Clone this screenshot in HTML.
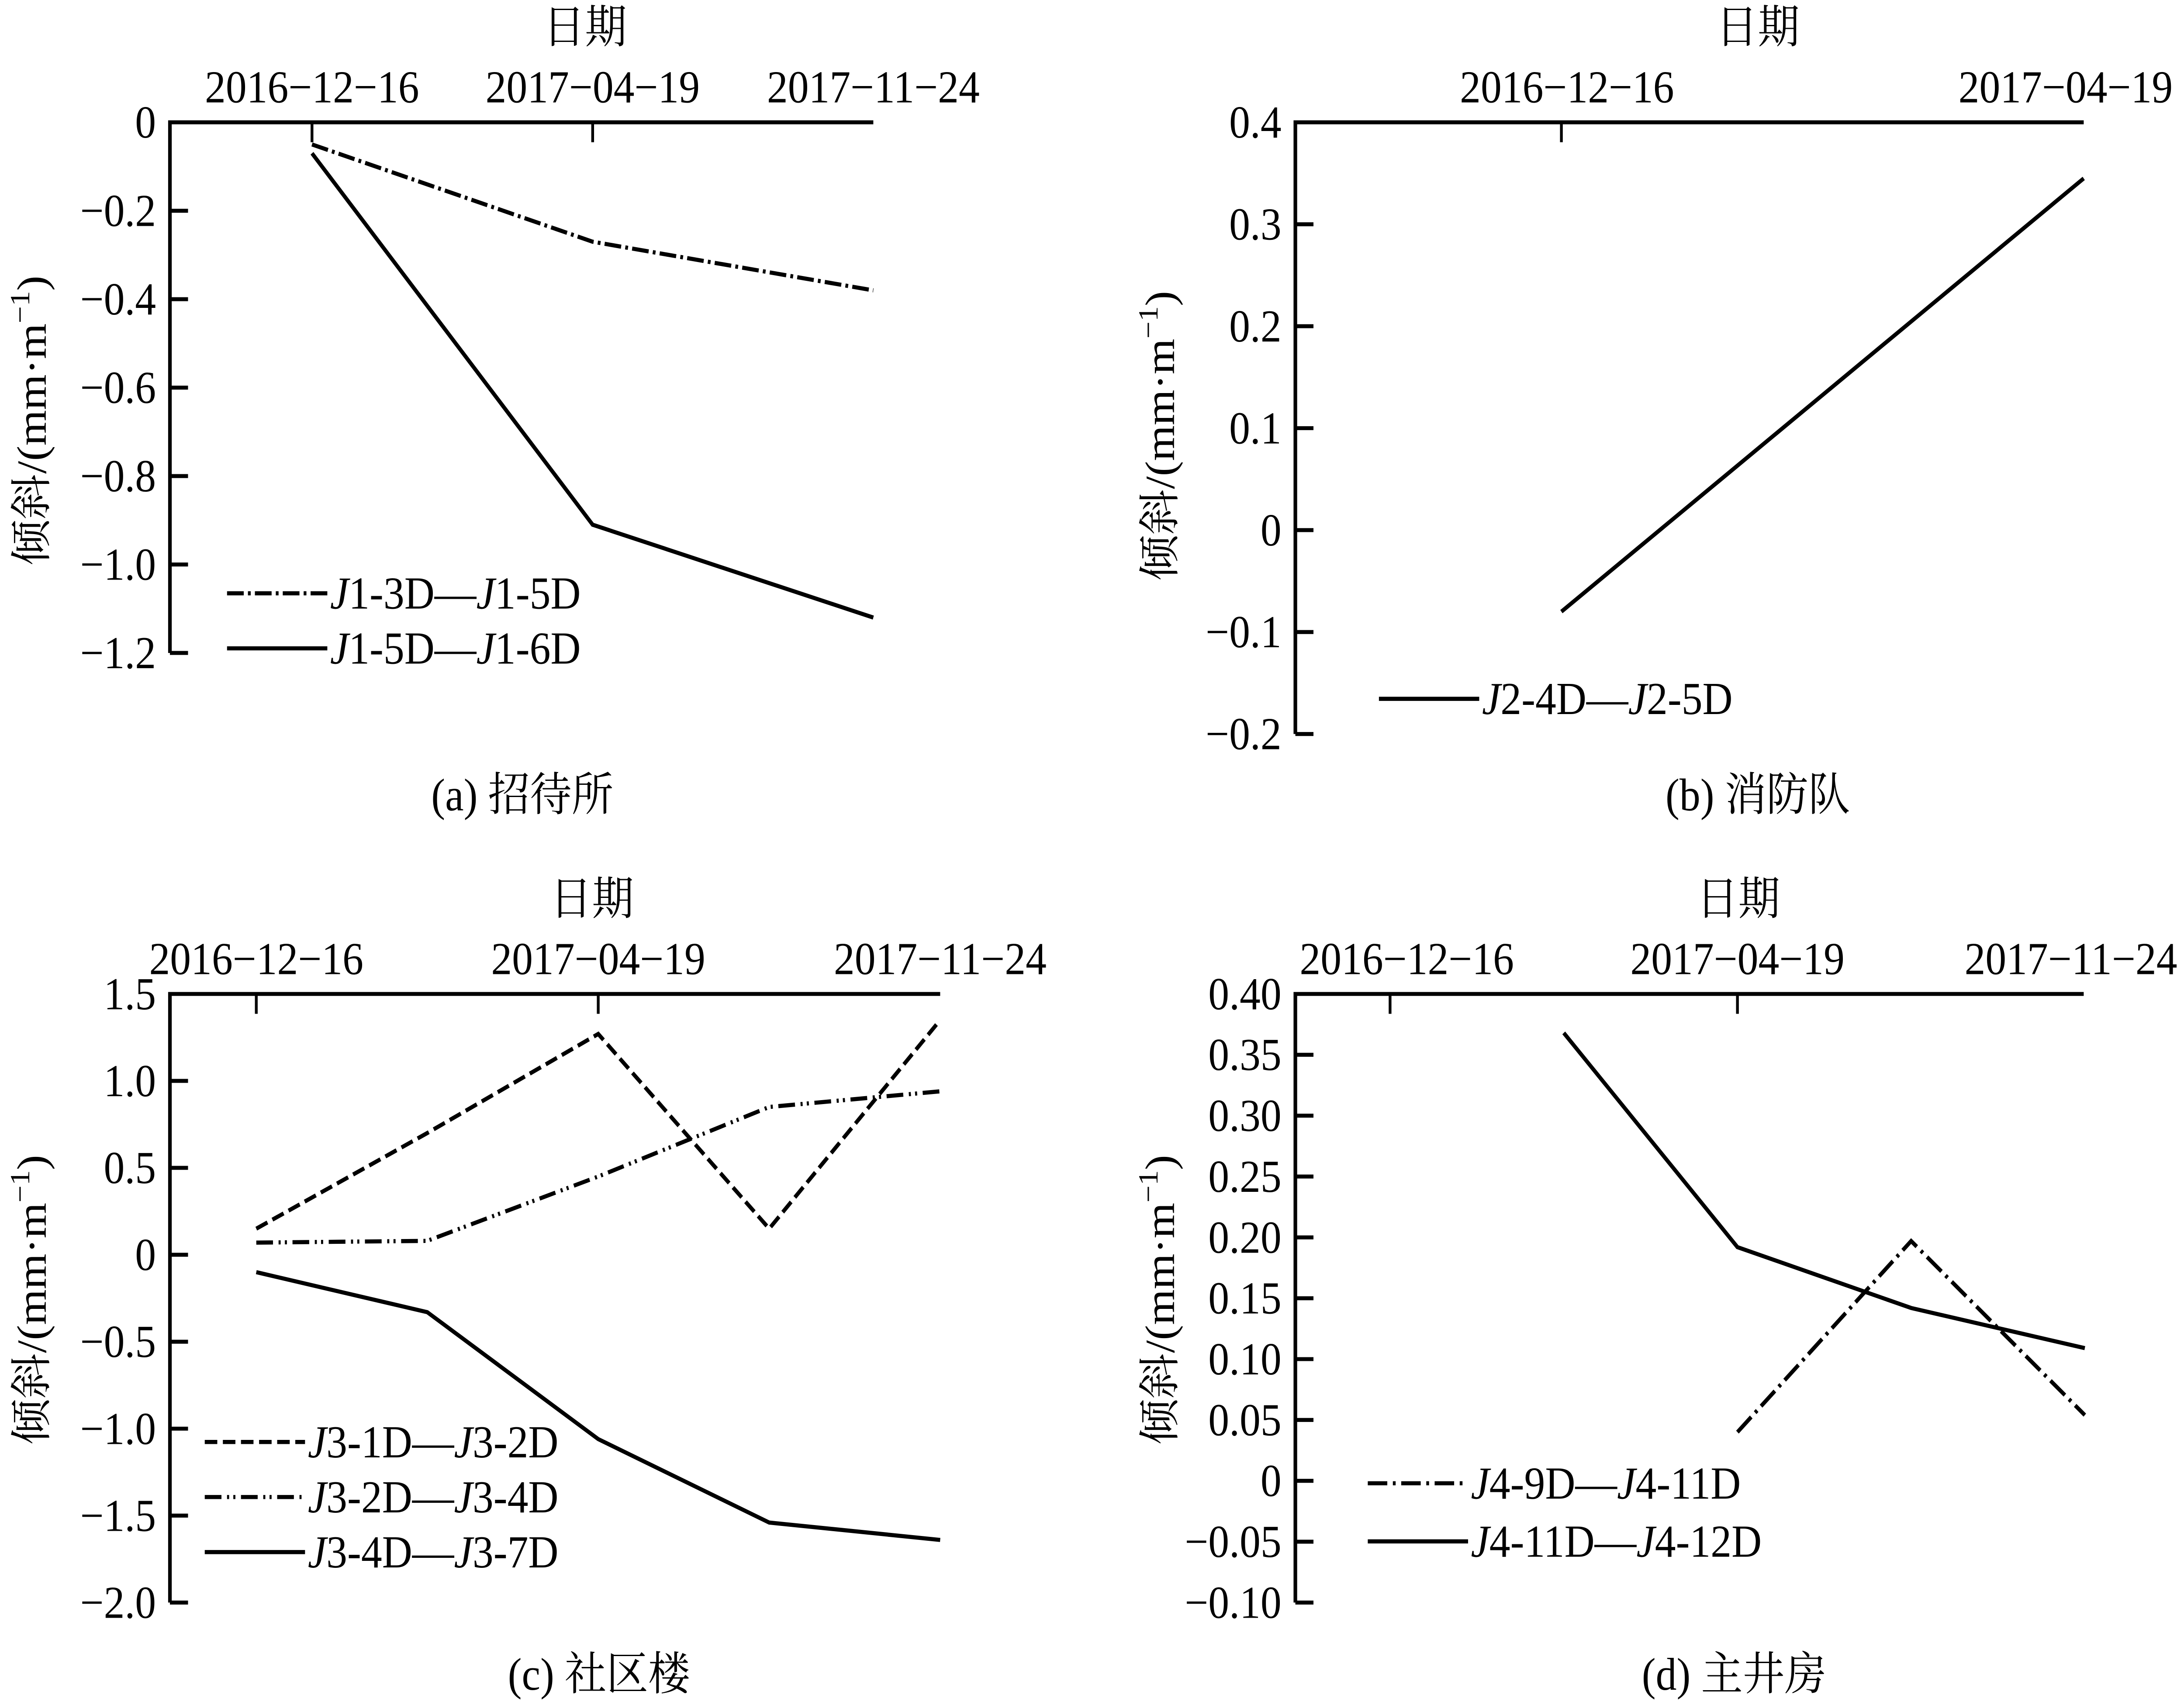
<!DOCTYPE html>
<html><head><meta charset="utf-8"><style>
html,body{margin:0;padding:0;background:#fff;width:100%;height:100%;overflow:hidden;}
svg{display:block;position:absolute;left:0;top:0;width:100vw;height:100vh;}
text{font-family:"Liberation Serif","Noto Serif CJK SC","Noto Sans CJK SC",serif;fill:#000;}
</style></head><body>
<svg id="root" xmlns="http://www.w3.org/2000/svg" viewBox="0 0 1568 1115" preserveAspectRatio="none">
<rect width="1568" height="1115" fill="#fff"/>
<g id="chart"></g>
</svg>
<script>
// ---- data arrays ----
const aDates = ["2016−12−16","2017−04−19","2017−11−24"];
const aTicks = [0,-0.2,-0.4,-0.6,-0.8,-1.0,-1.2];
const aTickLabels = ["0","−0.2","−0.4","−0.6","−0.8","−1.0","−1.2"];
const aSeries1 = [-0.05,-0.27,-0.38];
const aSeries2 = [-0.07,-0.91,-1.12];

const bDates = ["2016−12−16","2017−04−19"];
const bTicks = [0.4,0.3,0.2,0.1,0,-0.1,-0.2];
const bTickLabels = ["0.4","0.3","0.2","0.1","0","−0.1","−0.2"];
const bSeries1 = [-0.08,0.345];

const cDates = ["2016−12−16","2017−04−19","2017−11−24"];
const cTicks = [1.5,1.0,0.5,0,-0.5,-1.0,-1.5,-2.0];
const cTickLabels = ["1.5","1.0","0.5","0","−0.5","−1.0","−1.5","−2.0"];
const cSeries1 = [0.15,0.70,1.27,0.15,1.35];
const cSeries2 = [0.07,0.08,0.45,0.85,0.94];
const cSeries3 = [-0.10,-0.33,-1.06,-1.54,-1.64];

const dDates = ["2016−12−16","2017−04−19","2017−11−24"];
const dTicks = [0.40,0.35,0.30,0.25,0.20,0.15,0.10,0.05,0,-0.05,-0.10];
const dTickLabels = ["0.40","0.35","0.30","0.25","0.20","0.15","0.10","0.05","0","−0.05","−0.10"];
const dSeries1 = [null,null,0.040,0.197,0.054];
const dSeries2 = [null,0.368,0.192,0.142,0.109];

const NS="http://www.w3.org/2000/svg";
const svg=document.getElementById('chart');
function mk(tag,attrs,parent){const e=document.createElementNS(NS,tag);for(const k in attrs)e.setAttribute(k,attrs[k]);(parent||svg).appendChild(e);return e;}

function panel(p){
  const g=mk('g',{});
  
  
  const sy=v=>p.top+(p.ymax-v)/(p.ymax-p.ymin)*(p.bottom-p.top);
  const sx=i=>p.x0+i*p.dx;
  const ax=mk('path',{d:`M${p.left},${p.bottom} V${p.top} H${p.right}`,fill:'none',stroke:'#000','stroke-width':2.6},g);
  
  
  p.yt.forEach((v,i)=>{
    const y=sy(v);
    if(i>0){const t=mk('line',{x1:p.left,x2:p.left+13,y1:y,y2:y,stroke:'#000','stroke-width':2.6},g);
      
      }
    const tx=mk('text',{x:p.left-10,y:y+10,'font-size':30,'text-anchor':'end'},g);
    tx.textContent=p.ytl[i];
    
    
  });
  p.dates.forEach((d,i)=>{
    const x=sx(p.dateIdx[i]);
    if(x<p.right-1){const t=mk('line',{x1:x,x2:x,y1:p.top,y2:p.top+13,stroke:'#000','stroke-width':2},g);
      
      }
    const tx=mk('text',{x:x+(p.lblShift?p.lblShift[i]:0),y:p.top-13,'font-size':30,'text-anchor':'middle'},g);
    tx.textContent=d;
    
    
  });
  const xt=mk('text',{x:p.xtitleX,y:p.top-52,'font-size':30,'text-anchor':'middle'},g);
  xt.textContent='日期';
  
  
  const yt=mk('text',{x:0,y:0,'font-size':30,'text-anchor':'middle',transform:`translate(${p.ytX},${p.ytY}) rotate(-90)`},g);
  yt.innerHTML='倾斜/(mm·m<tspan dy="-12" font-size="20">−1</tspan><tspan dy="12">)</tspan>';
  
  
  const cap=mk('text',{x:p.capX,y:p.capY,'font-size':30,'text-anchor':'middle'},g);
  cap.textContent=p.caption;
  
  
  p.series.forEach((s,k)=>{
    let d='';
    s.vals.forEach((v,i)=>{if(v===null)return;d+=(d?'L':'M')+sx(i)+','+sy(v)+' ';});
    const l=mk('path',{d:d,fill:'none',stroke:'#000','stroke-width':2.7,'stroke-dasharray':s.dash||'none'},g);
    
    
    const ly=p.legY[k];
    const ll=mk('line',{x1:p.legX,x2:p.legX+72,y1:ly,y2:ly,stroke:'#000','stroke-width':2.7,'stroke-dasharray':s.dash||'none'},g);
    
    
    const lt=mk('text',{x:p.legX+74,y:ly+10,'font-size':30},g);
    lt.innerHTML=s.label;
    
    
  });
}
function lab(a,b,c,d){return `<tspan font-style="italic">J</tspan>${a}-${b}—<tspan font-style="italic">J</tspan>${c}-${d}`;}

panel({name:'panel-a',left:122,right:627,top:80,bottom:427,ymax:0,ymin:-1.2,x0:224,dx:201.5,
  dates:aDates,dateIdx:[0,1,2],yt:aTicks,ytl:aTickLabels,xtitleX:420,ytX:33,ytY:275,capX:375,capY:530,caption:'(a)  招待所',
  legX:163,legY:[388,424],
  series:[{vals:aSeries1,dash:'12 3 2 3',label:lab('1','3D','1','5D')},{vals:aSeries2,label:lab('1','5D','1','6D')}]});
panel({name:'panel-b',left:930,right:1496,top:80,bottom:480,ymax:0.4,ymin:-0.2,x0:1121,dx:375,
  dates:bDates,dateIdx:[0,1],yt:bTicks,ytl:bTickLabels,xtitleX:1262,ytX:843,ytY:285,capX:1262,capY:530,caption:'(b)  消防队',
  lblShift:[4,-13],legX:990,legY:[457],
  series:[{vals:bSeries1,label:lab('2','4D','2','5D')}]});
panel({name:'panel-c',left:122,right:675,top:650,bottom:1048,ymax:1.5,ymin:-2.0,x0:184,dx:122.75,
  dates:cDates,dateIdx:[0,2,4],yt:cTicks,ytl:cTickLabels,xtitleX:425,ytX:33,ytY:850,capX:430,capY:1105,caption:'(c)  社区楼',
  legX:147,legY:[943,979,1015],
  series:[{vals:cSeries1,dash:'9 4',label:lab('3','1D','3','2D')},{vals:cSeries2,dash:'12 4 1.5 3 1.5 4',label:lab('3','2D','3','4D')},{vals:cSeries3,label:lab('3','4D','3','7D')}]});
panel({name:'panel-d',left:930,right:1496,top:650,bottom:1048,ymax:0.40,ymin:-0.10,x0:998,dx:124.7,
  dates:dDates,dateIdx:[0,2,4],yt:dTicks,ytl:dTickLabels,xtitleX:1248,ytX:843,ytY:850,capX:1245,capY:1105,caption:'(d)  主井房',
  lblShift:[12,0,-10],legX:982,legY:[970,1008],
  series:[{vals:dSeries1,dash:'14 4 2 4',label:lab('4','9D','4','11D')},{vals:dSeries2,label:lab('4','11D','4','12D')}]});
</script>
</body></html>
